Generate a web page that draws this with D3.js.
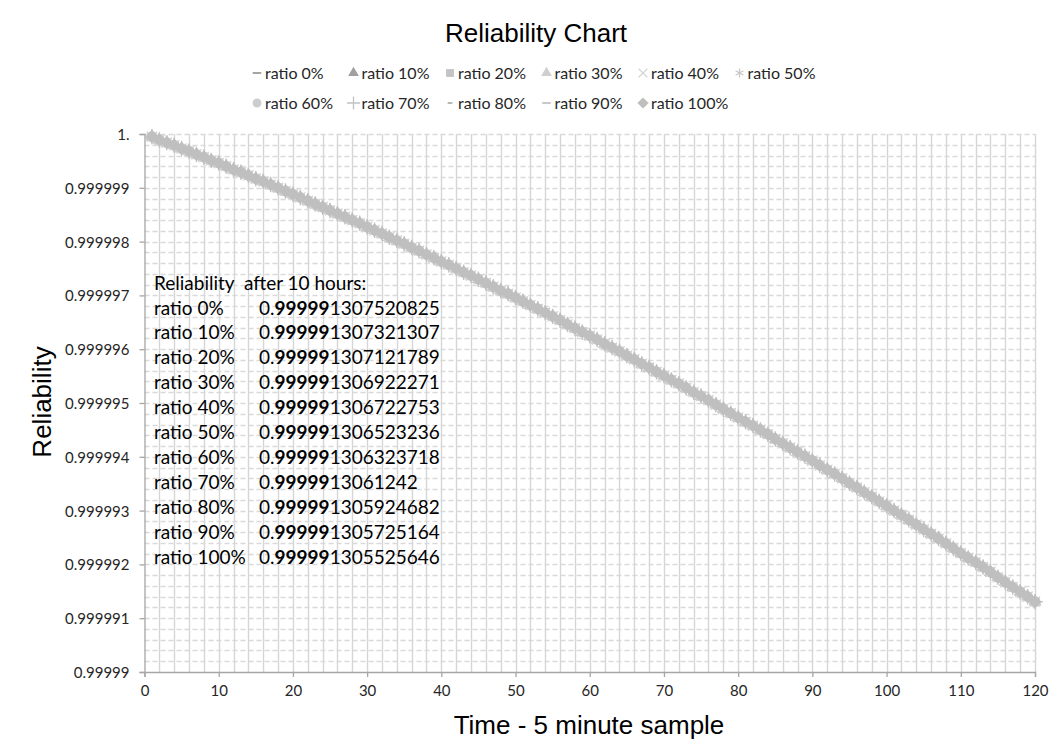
<!DOCTYPE html>
<html>
<head>
<meta charset="utf-8">
<script src="https://cdn.jsdelivr.net/npm/d3@7"></script>
<style>
  body { margin: 0; background: #fff; }
  svg { display: block; }
  .tick text { font-family: Lato, "Open Sans", sans-serif; font-size: 15px; fill: #262626; }
</style>
</head>
<body>
<svg id="chart" width="1054" height="753"></svg>
<script>
// Series names, legend markers and marker colours
const seriesNames = ["ratio 0%", "ratio 10%", "ratio 20%", "ratio 30%", "ratio 40%", "ratio 50%",
                     "ratio 60%", "ratio 70%", "ratio 80%", "ratio 90%", "ratio 100%"];
const seriesMarkers = ["dash", "triangle", "square", "triangle", "times", "asterisk",
                       "circle", "plus", "shortdash", "dash", "diamond"];
const seriesColors = ["#a5a5a5", "#a0a0a0", "#c4c4c4", "#cfcfcf", "#d6d6d6", "#c9c9c9",
                      "#cdcdcd", "#c2c2c2", "#b8b8b8", "#c8c8c8", "#bfbfbf"];

// Reliability for samples 1..119 (5-minute samples); all ratios coincide at this scale
const reliability = [
  0.99999995, 0.99999989, 0.99999984, 0.99999979, 0.99999973, 0.99999968, 0.99999962, 0.99999957, 0.99999951, 0.99999946,
  0.99999940, 0.99999934, 0.99999929, 0.99999923, 0.99999917, 0.99999912, 0.99999906, 0.99999900, 0.99999894, 0.99999888,
  0.99999882, 0.99999876, 0.99999870, 0.99999864, 0.99999858, 0.99999852, 0.99999846, 0.99999840, 0.99999834, 0.99999827,
  0.99999821, 0.99999815, 0.99999808, 0.99999802, 0.99999796, 0.99999789, 0.99999783, 0.99999776, 0.99999770, 0.99999763,
  0.99999757, 0.99999750, 0.99999743, 0.99999737, 0.99999730, 0.99999723, 0.99999716, 0.99999709, 0.99999703, 0.99999696,
  0.99999689, 0.99999682, 0.99999675, 0.99999668, 0.99999661, 0.99999654, 0.99999646, 0.99999639, 0.99999632, 0.99999625,
  0.99999618, 0.99999610, 0.99999603, 0.99999596, 0.99999588, 0.99999581, 0.99999573, 0.99999566, 0.99999558, 0.99999551,
  0.99999543, 0.99999536, 0.99999528, 0.99999520, 0.99999513, 0.99999505, 0.99999497, 0.99999489, 0.99999481, 0.99999473,
  0.99999465, 0.99999458, 0.99999450, 0.99999442, 0.99999433, 0.99999425, 0.99999417, 0.99999409, 0.99999401, 0.99999393,
  0.99999384, 0.99999376, 0.99999368, 0.99999360, 0.99999351, 0.99999343, 0.99999334, 0.99999326, 0.99999317, 0.99999309,
  0.99999300, 0.99999292, 0.99999283, 0.99999274, 0.99999265, 0.99999257, 0.99999248, 0.99999239, 0.99999230, 0.99999221,
  0.99999212, 0.99999204, 0.99999195, 0.99999186, 0.99999176, 0.99999167, 0.99999158, 0.99999149, 0.99999140
];

// Reliability after 10 hours (sample 120), one per ratio
const finalValues = [0.999991307520825, 0.999991307321307, 0.999991307121789, 0.999991306922271,
                     0.999991306722753, 0.999991306523236, 0.999991306323718, 0.9999913061242,
                     0.999991305924682, 0.999991305725164, 0.999991305525646];

// Axis ticks
const xTickValues = [0, 10, 20, 30, 40, 50, 60, 70, 80, 90, 100, 110, 120];
const yTickValues = [0.99999, 0.999991, 0.999992, 0.999993, 0.999994, 0.999995,
                     0.999996, 0.999997, 0.999998, 0.999999, 1.0];
const yTickLabels = ["0.99999", "0.999991", "0.999992", "0.999993", "0.999994", "0.999995",
                     "0.999996", "0.999997", "0.999998", "0.999999", "1."];

const svg = d3.select("#chart");
const plot = { left: 144.5, right: 1035, top: 134, bottom: 672 };

const x = d3.scaleLinear().domain([0, 120]).range([plot.left, plot.right]);
const y = d3.scaleLinear().domain([0.99999, 1.0]).range([plot.bottom, plot.top]);

// Title
svg.append("text")
  .attr("x", 536).attr("y", 42)
  .attr("text-anchor", "middle")
  .style("font-family", "'Liberation Sans', Arial, sans-serif")
  .style("font-size", "26px")
  .attr("fill", "#000")
  .text("Reliability Chart");

// Gridlines
const grid = svg.append("g");
grid.selectAll("line.v")
  .data(d3.range(2, 121, 2))
  .join("line")
  .attr("class", "v")
  .attr("x1", d => Math.round(x(d)) + 0.5).attr("x2", d => Math.round(x(d)) + 0.5)
  .attr("y1", plot.top).attr("y2", plot.bottom)
  .attr("stroke", "#d6d6d6").attr("stroke-width", 1.4);

grid.selectAll("line.h")
  .data(d3.range(1, 51).map(k => 0.99999 + k * 2e-7))
  .join("line")
  .attr("class", "h")
  .attr("x1", plot.left).attr("x2", plot.right)
  .attr("y1", d => Math.round(y(d)) + 0.5).attr("y2", d => Math.round(y(d)) + 0.5)
  .attr("stroke", "#d9d9d9").attr("stroke-width", 1.3)
  .attr("stroke-dasharray", "5,3");

// Axes
const xAxis = svg.append("g")
  .attr("transform", `translate(0,${plot.bottom})`)
  .call(d3.axisBottom(x).tickValues(xTickValues).tickSize(5).tickPadding(8));
const yAxis = svg.append("g")
  .attr("transform", `translate(${plot.left},0)`)
  .call(d3.axisLeft(y).tickValues(yTickValues).tickSize(5).tickPadding(10)
        .tickFormat((d, i) => yTickLabels[i]));
[xAxis, yAxis].forEach(g => {
  g.select(".domain").attr("stroke", "#a6a6a6").attr("stroke-width", 1.3);
  g.selectAll(".tick line").attr("stroke", "#a6a6a6").attr("stroke-width", 1.3);
});
yAxis.selectAll(".tick text").attr("dy", "0.36em");

// Axis titles
svg.append("text")
  .attr("transform", "translate(51,402) rotate(-90)")
  .attr("text-anchor", "middle")
  .style("font-family", "'Liberation Sans', Arial, sans-serif")
  .style("font-size", "26px")
  .text("Reliability");
svg.append("text")
  .attr("x", 589).attr("y", 734)
  .attr("text-anchor", "middle")
  .style("font-family", "'Liberation Sans', Arial, sans-serif")
  .style("font-size", "26px")
  .text("Time - 5 minute sample");

// Marker shapes
function markerPath(kind, scale) {
  const s = scale || 1;
  switch (kind) {
    case "dash": return `M${-5*s},${-1.2*s}h${10*s}v${2.4*s}h${-10*s}Z`;
    case "shortdash": return `M${-2.8*s},${-1.2*s}h${5.6*s}v${2.4*s}h${-5.6*s}Z`;
    case "triangle": return d3.symbol(d3.symbolTriangle, 70 * s * s)();
    case "square": return d3.symbol(d3.symbolSquare, 85 * s * s)();
    case "circle": return d3.symbol(d3.symbolCircle, 85 * s * s)();
    case "diamond": return `M0,${-6.6*s}L${6.6*s},0L0,${6.6*s}L${-6.6*s},0Z`;
    case "times": return d3.symbol(d3.symbolTimes || d3.symbolCross, 70 * s * s)();
    case "plus": return d3.symbol(d3.symbolPlus || d3.symbolCross, 80 * s * s)();
    case "asterisk": return d3.symbol(d3.symbolAsterisk || d3.symbolStar, 80 * s * s)();
  }
}
const strokeMarkers = new Set(["times", "plus", "asterisk"]);

function styleMarker(sel, i) {
  const kind = seriesMarkers[i];
  if (strokeMarkers.has(kind)) {
    sel.attr("fill", "none").attr("stroke", seriesColors[i]).attr("stroke-width", 1.3);
  } else {
    sel.attr("fill", seriesColors[i]).attr("stroke", "none");
  }
}

// Series markers
const seriesData = seriesNames.map((name, i) =>
  reliability.map((v, k) => ({ t: k + 1, v: v })).concat([{ t: 120, v: finalValues[i] }]));

const marks = svg.append("g");
seriesData.forEach((pts, i) => {
  const g = marks.append("g").attr("class", "series");
  g.selectAll("path")
    .data(pts)
    .join("path")
    .attr("transform", d => `translate(${x(d.t)},${y(d.v)})`)
    .attr("d", markerPath(seriesMarkers[i], 1))
    .call(styleMarker, i);
});

// Legend
const legend = svg.append("g")
  .style("font-family", "Lato, 'Open Sans', sans-serif")
  .style("font-size", "16px");
seriesNames.forEach((name, i) => {
  const col = i < 6 ? i : i - 6;
  const row = i < 6 ? 0 : 1;
  const mx = 257 + col * 96.5;
  const my = 73 + row * 30;
  legend.append("path")
    .attr("transform", `translate(${mx},${my})`)
    .attr("d", markerPath(seriesMarkers[i], 0.85))
    .call(styleMarker, i);
  legend.append("text")
    .attr("x", mx + 8).attr("y", my + 5.5)
    .attr("fill", "#262626")
    .text(name);
});

// Reliability after 10 hours, written inside the plot
const note = svg.append("g")
  .style("font-family", "Lato, 'Open Sans', sans-serif")
  .style("font-size", "19px")
  .attr("fill", "#000");
note.append("text")
  .attr("x", 154).attr("y", 290)
  .style("white-space", "pre")
  .text("Reliability  after 10 hours:");
finalValues.forEach((v, i) => {
  const yy = 314.5 + i * 24.9;
  note.append("text").attr("x", 154).attr("y", yy).text(seriesNames[i]);
  const s = String(v);
  const t = note.append("text").attr("x", 259).attr("y", yy);
  t.append("tspan").text(s.slice(0, 2));
  t.append("tspan").attr("font-weight", "bold").text(s.slice(2, 7));
  t.append("tspan").text(s.slice(7));
});
</script>
</body>
</html>
